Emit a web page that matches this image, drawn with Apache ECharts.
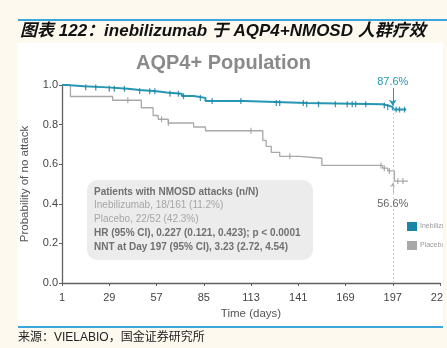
<!DOCTYPE html>
<html>
<head>
<meta charset="utf-8">
<script src="https://cdn.jsdelivr.net/npm/echarts/dist/echarts.min.js"></script>
<style>
  html, body { margin: 0; padding: 0; background: #fdf9ef; overflow: hidden; }
  #c { width: 447px; height: 348px; }
</style>
</head>
<body>
<div id="c"></div>
<script>
// Kaplan–Meier estimates: day of each step and the survival value from that day on
const ineDays = [1, 4, 14, 28, 40, 47, 57, 63, 72, 79, 86, 109, 146, 191, 194, 197, 205];
const ineSurv = [1.0, 0.994, 0.988, 0.981, 0.975, 0.969, 0.962, 0.956, 0.944, 0.935, 0.919, 0.909, 0.903, 0.897, 0.889, 0.876, 0.876];

const pboDays = [1, 6, 31, 48, 55, 58, 64, 79, 86, 120, 122, 125, 130, 142, 155, 191, 194, 198, 206];
const pboSurv = [1.0, 0.942, 0.923, 0.885, 0.846, 0.827, 0.808, 0.788, 0.769, 0.72, 0.69, 0.66, 0.64, 0.63, 0.594, 0.58, 0.566, 0.515, 0.515];

// Censoring times (days)
const ineCensor = [15, 21, 29, 32, 38, 47, 53, 56, 65, 70, 73, 83, 90, 107, 128, 130, 144, 146, 153, 163, 170, 173, 175, 181, 192, 194, 199, 201, 204];
const pboCensor = [40, 60, 64, 113, 136, 190, 192, 195, 200, 203];

// Axis ticks
const xTicks = [1, 29, 57, 85, 113, 141, 169, 197, 225];
const yTicks = [0, 0.2, 0.4, 0.6, 0.8, 1.0];

const landmarkDay = 197;
const ineLandmark = '87.6%';
const pboLandmark = '56.6%';

const infoLines = [
  { text: 'Patients with NMOSD attacks (n/N)', bold: true },
  { text: 'Inebilizumab, 18/161 (11.2%)', bold: false },
  { text: 'Placebo, 22/52 (42.3%)', bold: false },
  { text: 'HR (95% CI), 0.227 (0.121, 0.423); p < 0.0001', bold: true },
  { text: 'NNT at Day 197 (95% CI), 3.23 (2.72, 4.54)', bold: true }
];

const TEAL = '#2596b3';
const TEAL_DARK = '#1b7fa0';
const GREY = '#a9a9a9';
const FONT = '"Liberation Sans", Arial, sans-serif';

// Day 1 sits at the axis origin
const toX = d => d - xTicks[0];
const step = xTicks[1] - xTicks[0];

function survAt(days, surv, d) {
  let v = surv[0];
  for (let i = 0; i < days.length; i++) if (days[i] <= d) v = surv[i];
  return v;
}
const kmPoints = (days, surv) => days.map((d, i) => [toX(d), surv[i]]);
const censorPoints = (cens, days, surv) => cens.map(d => [toX(d), survAt(days, surv, d)]);

const chart = echarts.init(document.getElementById('c'), null, { renderer: 'canvas' });

const infoGraphics = infoLines.map((l, i) => ({
  type: 'text',
  left: 94,
  top: 187 + i * 13.7,
  z: 11,
  style: {
    text: l.text,
    fill: l.bold ? '#707070' : '#a6a6a6',
    font: (l.bold ? 'bold ' : '') + '10px ' + FONT
  }
}));

chart.setOption({
  animation: false,
  backgroundColor: 'transparent',
  grid: { left: 62, right: 7, top: 85, bottom: 65, outerBoundsMode: 'none', containLabel: false },
  title: {
    text: 'AQP4+ Population',
    left: 'center',
    top: 48,
    textStyle: { color: '#8a8a8a', fontSize: 20, fontWeight: 'bold', fontFamily: FONT }
  },
  legend: {
    orient: 'vertical',
    left: 402,
    top: 217,
    itemWidth: 10,
    itemHeight: 9,
    itemGap: 10,
    icon: 'rect',
    textStyle: { fontSize: 7, color: '#9a9a9a', fontFamily: FONT, padding: [0, 0, 0, -2] },
    data: [
      { name: 'Inebilizumab', itemStyle: { color: '#1a86a6' } },
      { name: 'Placebo', itemStyle: { color: '#a8a8a8' } }
    ]
  },
  xAxis: {
    type: 'value',
    min: toX(xTicks[0]),
    max: toX(xTicks[xTicks.length - 1]),
    interval: step,
    offset: 4,
    name: 'Time (days)',
    nameLocation: 'middle',
    nameGap: 17,
    nameTextStyle: { color: '#555', fontSize: 11.5, fontFamily: FONT },
    axisLine: { lineStyle: { color: '#606060', width: 1.3 } },
    axisTick: { length: 3, lineStyle: { color: '#606060' } },
    axisLabel: {
      margin: 5,
      color: '#444',
      fontSize: 11,
      fontFamily: FONT,
      formatter: v => String(v + xTicks[0])
    },
    splitLine: { show: false }
  },
  yAxis: {
    type: 'value',
    min: yTicks[0],
    max: yTicks[yTicks.length - 1],
    interval: 0.2,
    name: 'Probability of no attack',
    nameLocation: 'middle',
    nameGap: 31,
    nameTextStyle: { color: '#555', fontSize: 11.5, fontFamily: FONT },
    axisLine: { show: true, lineStyle: { color: '#606060', width: 1.3 } },
    axisTick: { show: true, length: 3, lineStyle: { color: '#606060' } },
    axisLabel: {
      margin: 4,
      color: '#444',
      fontSize: 11,
      fontFamily: FONT,
      formatter: v => v.toFixed(1)
    },
    splitLine: { show: false }
  },
  series: [
    {
      name: 'Placebo',
      type: 'line',
      step: 'end',
      showSymbol: false,
      data: kmPoints(pboDays, pboSurv),
      lineStyle: { color: GREY, width: 1.3 },
      itemStyle: { color: GREY },
      z: 3,
      markLine: {
        silent: true,
        symbol: ['none', 'arrow'],
        symbolSize: 4,
        lineStyle: { color: '#aaa', width: 0.8, type: 'solid' },
        label: {
          show: true,
          position: 'start',
          distance: 6,
          formatter: pboLandmark,
          color: '#666',
          fontSize: 11,
          fontFamily: FONT
        },
        data: [[{ coord: [toX(landmarkDay), 0.455] }, { coord: [toX(landmarkDay), 0.505] }]]
      }
    },
    {
      name: 'Inebilizumab',
      type: 'line',
      step: 'end',
      showSymbol: false,
      data: kmPoints(ineDays, ineSurv),
      lineStyle: { color: TEAL, width: 2 },
      itemStyle: { color: TEAL },
      z: 4,
      markLine: {
        silent: true,
        symbol: ['none', 'arrow'],
        symbolSize: 6,
        lineStyle: { color: TEAL, width: 1, type: 'solid' },
        label: {
          show: true,
          position: 'start',
          distance: 1,
          formatter: ineLandmark,
          color: TEAL,
          fontSize: 11,
          fontFamily: FONT
        },
        data: [[{ coord: [toX(landmarkDay), 0.985] }, { coord: [toX(landmarkDay), 0.895] }]]
      }
    },
    {
      name: 'landmark',
      type: 'line',
      silent: true,
      showSymbol: false,
      data: [],
      markLine: {
        silent: true,
        symbol: ['none', 'none'],
        lineStyle: { color: '#c4c4c4', width: 0.8, type: [2, 2] },
        label: { show: false },
        data: [
          [{ coord: [toX(landmarkDay), 0] }, { coord: [toX(landmarkDay), 0.89] }]
        ]
      }
    },
    {
      name: 'Placebo censored',
      type: 'scatter',
      silent: true,
      symbol: 'rect',
      symbolSize: [1.2, 6],
      itemStyle: { color: '#999' },
      data: censorPoints(pboCensor, pboDays, pboSurv),
      z: 5
    },
    {
      name: 'Inebilizumab censored',
      type: 'scatter',
      silent: true,
      symbol: 'rect',
      symbolSize: [1.3, 6],
      itemStyle: { color: TEAL_DARK },
      data: censorPoints(ineCensor, ineDays, ineSurv),
      z: 6
    }
  ],
  graphic: [
    // white chart panel
    { type: 'rect', shape: { x: 18, y: 43, width: 425, height: 283 }, style: { fill: '#ffffff' }, z: -10, silent: true },
    // header rule and caption
    { type: 'rect', shape: { x: 18, y: 19, width: 429, height: 2 }, style: { fill: '#3aa6dc' }, z: 20, silent: true },
    {
      type: 'text', left: 20, top: 23, z: 20,
      style: {
        text: '图表 122：inebilizumab 于 AQP4+NMOSD 人群疗效',
        fill: '#111',
        font: 'italic bold 17px "Liberation Sans", "Noto Sans CJK SC", sans-serif'
      }
    },
    // footer rule and source
    { type: 'rect', shape: { x: 18, y: 326, width: 425, height: 2 }, style: { fill: '#3aa6dc' }, z: 20, silent: true },
    {
      type: 'text', left: 18, top: 332, z: 20,
      style: {
        text: '来源：VIELABIO，国金证券研究所',
        fill: '#222',
        font: '12px "Liberation Sans", "Noto Sans CJK SC", sans-serif'
      }
    },
    // statistics box
    { type: 'rect', shape: { x: 87, y: 180, width: 226, height: 80, r: 10 }, style: { fill: '#ececec' }, z: 10, silent: true },
    ...infoGraphics,
    // right margin of the page trims the panel content
    { type: 'rect', shape: { x: 443, y: 40, width: 6, height: 290 }, style: { fill: '#fdf9ef' }, z: 30, silent: true }
  ]
});
</script>
</body>
</html>
